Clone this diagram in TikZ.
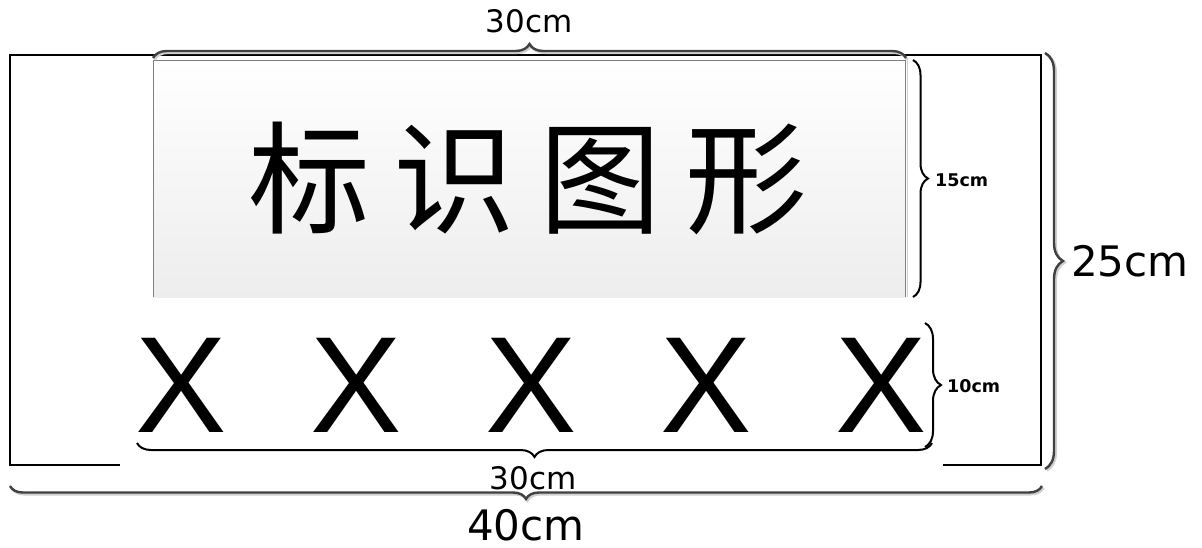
\documentclass[tikz,border=0pt]{standalone}
\usepackage{fontspec}
\setmainfont{DejaVu Sans}
\newfontfamily\cjkfont{Noto Sans CJK SC}
\newfontfamily\xfont{Liberation Sans}
\usetikzlibrary{decorations.pathreplacing}
\definecolor{bracegray}{HTML}{404040}
\definecolor{shadowgray}{HTML}{CFCFCF}
\definecolor{boxedge}{HTML}{808080}
\definecolor{boxbottom}{HTML}{EDEDED}
\begin{document}
\begin{tikzpicture}[x=1pt,y=-1pt,
  bracebase/.style={decorate,decoration={brace,amplitude=#1}},
  blackbrace/.style={bracebase=#1,draw=black,line width=2pt},
  graybrace/.style={bracebase=#1,draw=bracegray,line width=2.4pt},
  shadowbrace/.style={bracebase=#1,draw=shadowgray,line width=2.4pt},
  biglabel/.style={inner sep=0pt,font=\fontsize{42pt}{42pt}\selectfont},
  midlabel/.style={inner sep=0pt,font=\fontsize{31pt}{31pt}\selectfont},
  smalllabel/.style={inner sep=0pt,anchor=west,font=\fontsize{17.5pt}{17.5pt}\selectfont\bfseries},
  frame/.style={draw=black,line width=1.6pt}]
\useasboundingbox (0,0) rectangle (1202,547);
% outer frame (bottom edge open in the middle)
\draw[frame] (120,465) -- (10,465) -- (10,55) -- (1041,55) -- (1041,465) -- (943,465);
% sign box
\fill[top color=white,bottom color=boxbottom] (153,60) rectangle (906,297);
\draw[draw=shadowgray,line width=1.5pt] (907.5,60) -- (907.5,297);
\draw[draw=boxedge,line width=1pt] (153.5,297) -- (153.5,60.5) -- (905,60.5) -- (905,297);
\node[inner sep=0pt,font=\cjkfont\fontsize{122pt}{122pt}\selectfont] (sign) at (528,178)
  {标\hspace{24pt}识\hspace{24pt}图\hspace{24pt}形};
\node[inner sep=0pt,font=\xfont\fontsize{137pt}{137pt}\selectfont] (xs) at (531,385)
  {\spaceskip=83.6pt X X X X X};
% brace end points
\coordinate (t1) at (153,58);   \coordinate (t2) at (906,58);
\coordinate (a1) at (913,60);   \coordinate (a2) at (913,297);
\coordinate (b1) at (1045,53);  \coordinate (b2) at (1045,469);
\coordinate (c1) at (925,323);  \coordinate (c2) at (925,447);
\coordinate (d1) at (932,443);  \coordinate (d2) at (137,443);
\coordinate (e1) at (1042,486); \coordinate (e2) at (10,486);
% gray braces with shadow
\draw[shadowbrace=14] ([shift={(1.5,1.8)}]t1) -- ([shift={(1.5,1.8)}]t2);
\draw[graybrace=14] (t1) -- (t2);
\draw[shadowbrace=18] ([shift={(1.8,1.5)}]b1) -- ([shift={(1.8,1.5)}]b2);
\draw[graybrace=18] (b1) -- (b2);
\draw[shadowbrace=13] ([shift={(1.5,1.8)}]e1) -- ([shift={(1.5,1.8)}]e2);
\draw[graybrace=13] (e1) -- (e2);
% black braces
\draw[blackbrace=15] (a1) -- (a2);
\draw[blackbrace=16] (c1) -- (c2);
\draw[blackbrace=14] (d1) -- (d2);
% labels
\node[midlabel] (top30) at (529,21.5) {30cm};
\node[smalllabel] (l15) at (935,180) {15cm};
\node[biglabel,anchor=west] (l25) at (1071,261) {25cm};
\node[smalllabel] (l10) at (947,386) {10cm};
\node[midlabel] (bot30) at (533,478) {30cm};
\node[biglabel] (l40) at (526,525.5) {40cm};
\end{tikzpicture}
\end{document}
